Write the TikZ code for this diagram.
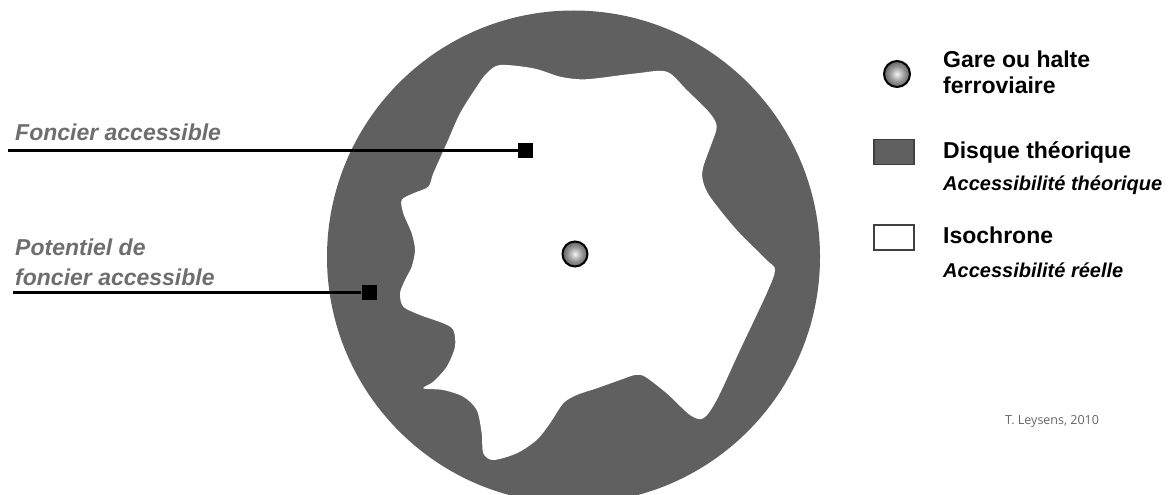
\documentclass[tikz,border=0pt]{standalone}
\usepackage{fontspec}
\setmainfont{Liberation Sans}
\newfontfamily\creditfont{Open Sans}
\definecolor{discgray}{HTML}{606060}
\definecolor{labgray}{HTML}{6E6E6E}
\pgfdeclareradialshading{sphereshade}{\pgfpoint{0bp}{0bp}}{color(0bp)=(black!5); color(14bp)=(black!40); color(30bp)=(black!72); color(44bp)=(black!88); color(50bp)=(black!92)}
\tikzset{
  sphere/.style={circle, draw=black, line width=2pt, shading=sphereshade, inner sep=0pt},
  marker/.style={rectangle, fill=black, minimum size=15pt, inner sep=0pt},
  leader/.style={line width=3pt, black},
  sidelabel/.style={font=\fontsize{23}{30}\selectfont\bfseries\itshape, text=labgray, align=left, inner sep=0pt},
  legtitle/.style={font=\fontsize{23}{26}\selectfont\bfseries, align=left, inner sep=0pt},
  legsub/.style={font=\fontsize{20}{24}\selectfont\bfseries\itshape, inner sep=0pt},
  legbox/.style={rectangle, draw=black!75, line width=1.5pt, minimum width=40pt, minimum height=25pt, inner sep=0pt},
}
\begin{document}
\begin{tikzpicture}[x=1pt,y=-1pt]
\useasboundingbox (0,0) rectangle (1172,495);
\begin{scope}
\clip (0,0) rectangle (1172,495);
% theoretical disc
\fill[discgray] (573.5,257) circle (246.5);
% isochrone
\fill[white] plot[smooth cycle, tension=0.5] coordinates {
(500,65) (533.3,68.3) (560,76.7) (580,79.3) (596.7,78.3) (636.7,73.3) (666.7,71.7)
(686.7,90) (710,113.3) (716.7,126.7) (711.7,143.3) (703.3,166.7) (702.7,180)
(710,196.7) (736.7,230) (766.7,260) (775,270) (766.7,293.3) (740,350) (716.7,400)
(703.3,418.3) (690,415) (666.7,393.3) (645,376.7) (635,375) (620,380) (596.7,388.3)
(576.7,395) (563.3,403.3) (550,423.3) (536.7,440) (516.7,453.3) (493.3,460)
(483.3,453.3) (481.7,433.3) (476.7,410) (463.3,396.7) (443.3,390) (423.3,388.3)
(433.3,381.7) (446.7,366.7) (455,346.7) (453.3,330) (443.3,323.3) (420,315)
(403.3,306.7) (400,293.3) (405,280) (411.7,266.7) (415,250) (411.7,233.3)
(403.3,213.3) (401.7,200) (413.3,193.3) (428.3,186.7) (433.3,173.3) (446.7,143.3)
(460,113.3) (476.7,86.7) (486.7,73.3)};
\end{scope}
% station
\node[sphere, minimum size=25pt] (station) at (575,254) {};
% leaders
\coordinate (fstart) at (8,150.5);
\node[marker] (fsq) at (525.5,150.5) {};
\draw[leader] (fstart) -- (fsq);
\coordinate (pstart) at (13,292);
\node[marker] (psq) at (369,292) {};
\draw[leader] (pstart) -- (psq);
% side labels
\node[sidelabel, anchor=base west] (flab) at (15,140.5) {Foncier accessible};
\node[sidelabel, anchor=base west] (plab1) at (15,255) {Potentiel de};
\node[sidelabel, anchor=base west] (plab2) at (15,285) {foncier accessible};
% legend
\node[sphere, minimum size=26pt] (legsph) at (897,74) {};
\node[legtitle, anchor=base west] (gare1) at (943,67) {Gare ou halte};
\node[legtitle, anchor=base west] (gare2) at (943,93) {ferroviaire};
\node[legbox, fill=discgray] (legdisc) at (894,152) {};
\node[legtitle, anchor=base west] (disq) at (943,158) {Disque théorique};
\node[legsub, anchor=base west] (disqs) at (943,190) {Accessibilité théorique};
\node[legbox, fill=white] (legiso) at (894,237.5) {};
\node[legtitle, anchor=base west] (iso) at (943,243) {Isochrone};
\node[legsub, anchor=base west] (isos) at (943,277) {Accessibilité réelle};
\node[font=\creditfont\fontsize{12.5}{14}\selectfont, text=black!60, anchor=base west, inner sep=0pt] (credit) at (1005,424) {T. Leysens, 2010};
\end{tikzpicture}
\end{document}
